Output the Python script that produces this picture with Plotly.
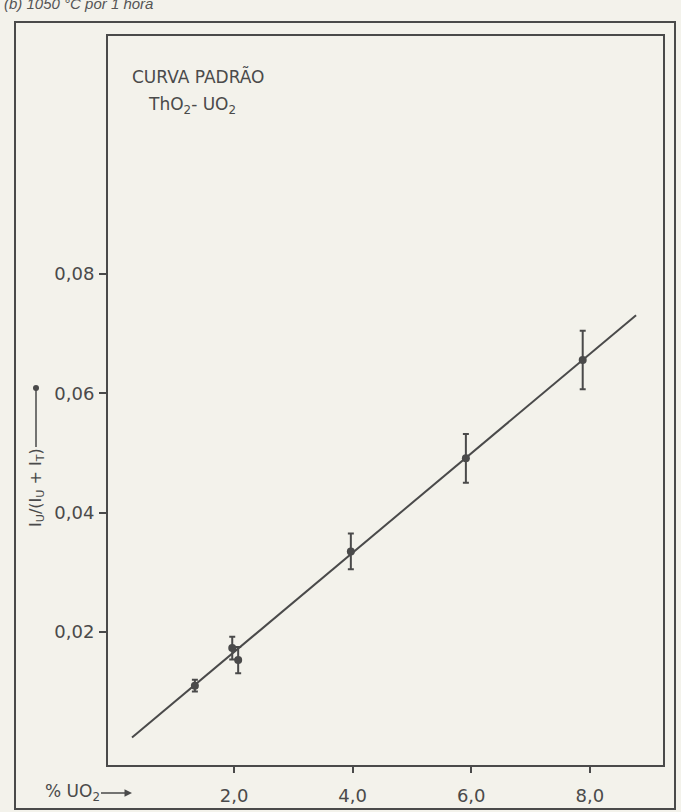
import plotly.graph_objects as go

# ---- data ----
uo2_pct = [1.34, 1.97, 2.07, 3.97, 5.91, 7.88]
ratio = [0.0110, 0.0173, 0.0153, 0.0335, 0.0491, 0.0656]
ratio_err = [0.0010, 0.0019, 0.0022, 0.0030, 0.0041, 0.0049]
fit_x = [0.28, 8.78]
fit_y = [0.0023, 0.0731]
x_ticks = [2, 4, 6, 8]
x_ticktext = ["2,0", "4,0", "6,0", "8,0"]
y_ticks = [0.02, 0.04, 0.06, 0.08]
y_ticktext = ["0,02", "0,04", "0,06", "0,08"]

W, H = 681, 812
L, R, T, B = 108, 18, 36, 47
PW, PH = W - L - R, H - T - B
INK = "#4a4a4a"
BG = "#f3f2eb"
FONT = "DejaVu Sans"


def px(x):
    return (x - L) / PW


def py(y):
    return (H - B - y) / PH


fig = go.Figure()
fig.add_trace(go.Scatter(x=fit_x, y=fit_y, mode="lines",
                         line=dict(color=INK, width=2), showlegend=False,
                         hoverinfo="skip"))
fig.add_trace(go.Scatter(x=uo2_pct, y=ratio, mode="markers",
                         marker=dict(color=INK, size=8),
                         error_y=dict(type="data", array=ratio_err, visible=True,
                                      color=INK, thickness=2, width=3),
                         showlegend=False))

axis_common = dict(showline=True, mirror=True, linecolor=INK, linewidth=2,
                   showgrid=False, zeroline=False, ticks="outside",
                   tickcolor=INK, tickwidth=2, automargin=False,
                   tickfont=dict(family=FONT, size=18, color=INK))

fig.update_xaxes(range=[-0.125, 9.234], tickvals=x_ticks, ticktext=x_ticktext,
                 ticklen=6, ticklabelstandoff=7, **axis_common)
fig.update_yaxes(range=[-0.0023, 0.1199], tickvals=y_ticks, ticktext=y_ticktext,
                 ticklen=7, ticklabelstandoff=1, **axis_common)

annotations = [
    dict(text="CURVA PADRÃO", x=px(130), y=py(76), xanchor="left", yanchor="middle",
         font=dict(family=FONT, size=17, color=INK)),
    dict(text="ThO<sub>2</sub>- UO<sub>2</sub>", x=px(146), y=py(106), xanchor="left",
         yanchor="middle", font=dict(family=FONT, size=17, color=INK)),
    dict(text="<i>(b) 1050 °C por 1 hora</i>", x=px(2), y=py(3), xanchor="left",
         yanchor="middle", font=dict(family="Liberation Sans", size=15, color="#555")),
    dict(text="% UO<sub>2</sub>", x=px(132), y=py(793), ax=-60, ay=0,
         showarrow=True, arrowhead=2, arrowsize=1, arrowwidth=1.5, arrowcolor=INK,
         font=dict(family=FONT, size=17, color=INK)),
    dict(text="I<sub>U</sub>/(I<sub>U</sub> + I<sub>T</sub>)", x=px(36), y=py(388),
         ax=0, ay=100, textangle=-90,
         showarrow=True, arrowhead=6, arrowsize=1, arrowwidth=1.5, arrowcolor=INK,
         font=dict(family=FONT, size=16, color=INK)),
]
for a in annotations:
    a.setdefault("showarrow", False)
    a["xref"] = "paper"
    a["yref"] = "paper"

shapes = [
    dict(type="rect", xref="paper", yref="paper",
         x0=px(15), x1=px(675), y0=py(809), y1=py(22),
         line=dict(color=INK, width=2), fillcolor="rgba(0,0,0,0)", layer="below"),
]

fig.update_layout(width=W, height=H, margin=dict(l=L, r=R, t=T, b=B),
                  paper_bgcolor=BG, plot_bgcolor=BG,
                  annotations=annotations, shapes=shapes, showlegend=False)

fig.write_html("out.html")
